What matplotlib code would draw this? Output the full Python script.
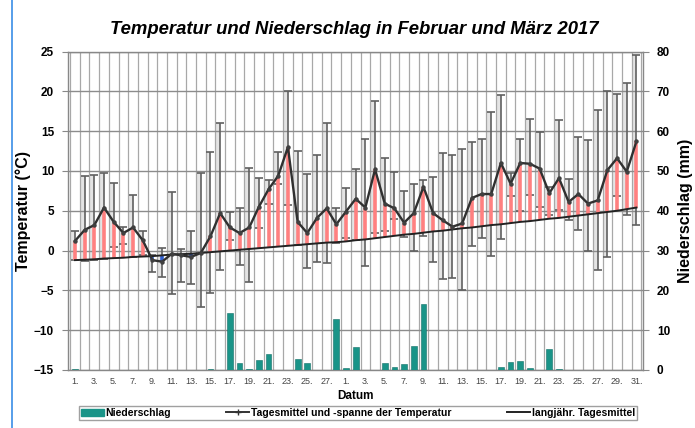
import matplotlib
matplotlib.use("Agg")
import matplotlib.pyplot as plt
import numpy as np
from matplotlib.lines import Line2D
from matplotlib.patches import Patch

plt.rcParams['font.family'] = ['Liberation Sans', 'DejaVu Sans']

# --- data -------------------------------------------------------------
feb_days = list(range(1, 29))
mar_days = list(range(1, 32))
day_labels = [f"{d}." for d in feb_days] + [f"{d}." for d in mar_days]

t_mean = [1.2, 2.6, 3.2, 5.4, 3.6, 2.2, 2.9, 1.3, -1.2, -1.4,
          -0.4, -0.6, -0.8, -0.3, 1.8, 4.7, 2.9, 2.2, 2.9, 5.5,
          7.7, 9.4, 13.0, 3.6, 2.2, 4.1, 5.3, 3.3,
          4.9, 6.5, 5.4, 10.2, 5.9, 5.3, 3.5, 4.7, 8.0, 4.7,
          3.8, 3.0, 3.4, 6.6, 7.1, 7.1, 11.0, 8.4, 11.0, 10.9,
          10.3, 7.2, 9.1, 6.1, 7.1, 5.9, 6.3, 10.1, 11.6, 9.9, 13.7]

t_max = [2.4, 9.4, 9.5, 9.8, 8.5, 3.0, 7.0, 2.4, -0.6, 0.3,
         7.4, 0.2, 2.5, 9.8, 12.4, 16.0, 4.9, 5.4, 10.4, 9.1,
         8.9, 12.4, 20.0, 12.5, 9.6, 12.0, 16.0, 5.3,
         7.9, 10.3, 14.0, 18.8, 11.6, 9.9, 7.5, 8.4, 8.9, 9.3,
         12.3, 12.0, 12.8, 13.6, 14.0, 17.4, 19.5, 9.7, 14.0, 16.5,
         14.9, 8.0, 16.4, 9.0, 14.3, 13.9, 17.6, 20.1, 19.7, 21.1, 24.6]

t_min = [-1.2, -1.3, -1.2, -1.0, 0.5, 0.8, -0.8, -0.5, -2.7, -3.3,
         -5.4, -3.9, -4.2, -7.1, -5.3, -2.5, 1.3, -1.8, -3.9, 2.8,
         5.8, 8.4, 5.7, 0.7, -2.2, -1.4, -1.6, 0.9,
         1.6, 1.3, -1.9, 2.2, 2.4, 4.0, 1.7, 0.0, 1.8, -1.4,
         -3.6, -3.4, -4.9, 0.6, 1.6, -0.7, 1.5, 6.8, 5.0, 7.0,
         5.5, 4.5, 5.1, 3.8, 2.6, -0.1, -2.4, -0.8, 6.8, 4.5, 3.2]

t_longterm = [-1.2, -1.15, -1.1, -1.0, -0.95, -0.9, -0.8, -0.75, -0.7, -0.6,
              -0.5, -0.45, -0.4, -0.3, -0.2, -0.1, 0.0, 0.1, 0.2, 0.3,
              0.4, 0.5, 0.6, 0.7, 0.8, 0.9, 1.0, 1.05,
              1.15, 1.3, 1.4, 1.55, 1.7, 1.85, 2.0, 2.1, 2.25, 2.4,
              2.5, 2.65, 2.8, 2.9, 3.05, 3.2, 3.3, 3.45, 3.6, 3.7,
              3.85, 4.0, 4.1, 4.25, 4.4, 4.55, 4.7, 4.85, 5.0, 5.2, 5.4]

precip = [0.2, 0, 0, 0, 0, 0, 0, 0, 0, 0,
          0, 0, 0, 0, 0.2, 0, 14.4, 1.7, 0.2, 2.5,
          3.9, 0, 0, 2.7, 1.7, 0, 0, 12.9,
          0.6, 5.7, 0, 0, 1.7, 0.8, 1.4, 6.0, 16.5, 0,
          0.1, 0, 0, 0, 0, 0, 0.8, 2.1, 2.3, 0.6,
          0, 5.2, 0.3, 0.1, 0, 0, 0, 0, 0, 0, 0]

# --- figure -----------------------------------------------------------
W, H = 695, 428
fig = plt.figure(figsize=(W / 100, H / 100), dpi=100)
ax = fig.add_axes([68 / W, 1 - 370 / H, (643 - 68) / W, (370 - 51.5) / H])

x = np.arange(len(t_mean))
tm = np.array(t_mean); tx = np.array(t_max); tn = np.array(t_min)
lt = np.array(t_longterm)

ax.set_xlim(-0.72, len(x) - 1 + 0.68)
ax.set_ylim(-15, 25)

# grid
for xv in np.arange(-0.5, len(x), 1.0):
    ax.axvline(xv, color='#a8a8a8', lw=0.9, zorder=1.5)
for yv in range(-15, 26, 5):
    ax.axhline(yv, color='#8c8c8c', lw=1.0, zorder=1.5)

# min/max span (soft shadow + whiskers)
ax.bar(x - 0.5, tx - tn, bottom=tn, width=0.5, align='edge',
       color='#e4e4e4', edgecolor='none', zorder=1)
ax.errorbar(x, tm, yerr=[tm - tn, tx - tm], fmt='none', ecolor='#606060',
            elinewidth=1.2, capsize=3, capthick=1.2, zorder=2)

# deviation stripes
above = tm >= lt
ax.vlines(x[above], lt[above], tm[above], color='#ff8080', lw=2.6, zorder=3)
ax.vlines(x[~above], tm[~above], lt[~above], color='#2f5fd0', lw=2.6, zorder=3)

# lines
ax.plot(x, lt, color='#222222', lw=1.4, zorder=4)
ax.plot(x, tm, color='#303030', lw=1.7, marker='o', ms=2.2,
        mfc='#404040', mec='#404040', zorder=5)

ax.set_yticks(range(-15, 26, 5))
ticks = list(range(0, 28, 2)) + list(range(28, len(x), 2))
ax.set_xticks(ticks)
ax.set_xticklabels([day_labels[i] for i in ticks])
ax.tick_params(axis='x', labelsize=6.5, colors='#444444', length=0, pad=5)
ax.tick_params(axis='y', labelsize=8.5, length=4, color='#888888', pad=6)
for lab in ax.get_yticklabels():
    lab.set_fontweight('bold')
for s in ax.spines.values():
    s.set_color('#888888'); s.set_linewidth(1.0)

ax.set_ylabel('Temperatur (°C)', fontsize=11.5, fontweight='bold', labelpad=2)
ax.set_xlabel('Datum', fontsize=8.5, fontweight='bold', labelpad=3)

# precipitation axis
ax2 = ax.twinx()
ax2.set_ylim(0, 80)
ax2.bar(x, precip, width=0.6, color='#1a9488', edgecolor='#0f6f66', lw=0.4, zorder=6)
ax2.set_yticks(range(0, 81, 10))
ax2.tick_params(axis='y', labelsize=8.5, length=4, color='#888888', pad=6)
for lab in ax2.get_yticklabels():
    lab.set_fontweight('bold')
for s in ax2.spines.values():
    s.set_visible(False)
ax2.set_ylabel('Niederschlag (mm)', fontsize=11.5, fontweight='bold', labelpad=6)

fig.text(354 / W, 1 - 30 / H, 'Temperatur und Niederschlag in Februar und März 2017',
         ha='center', va='center', fontsize=13.3, fontweight='bold', style='italic')

handles = [Patch(facecolor='#1a9488', edgecolor='#1a9488'),
           Line2D([0], [0], color='#333333', lw=1.4, marker='+', ms=5, mew=1),
           Line2D([0], [0], color='#222222', lw=1.4)]
labels = ['Niederschlag', 'Tagesmittel und -spanne der Temperatur', 'langjähr. Tagesmittel']
leg = fig.legend(handles, labels, loc='center', ncol=3,
                 bbox_to_anchor=(358 / W, 1 - 413 / H),
                 prop={'weight': 'bold', 'size': 7.5}, frameon=True, fancybox=False,
                 edgecolor='#888888', handlelength=2.2, handletextpad=0.2,
                 columnspacing=5.3, borderpad=0.2)

# blue frame line on the left
fig.add_artist(Line2D([12 / W, 12 / W], [0, 1], color='#3a8ee6', lw=1.2))

fig.savefig('out.png', dpi=100)
